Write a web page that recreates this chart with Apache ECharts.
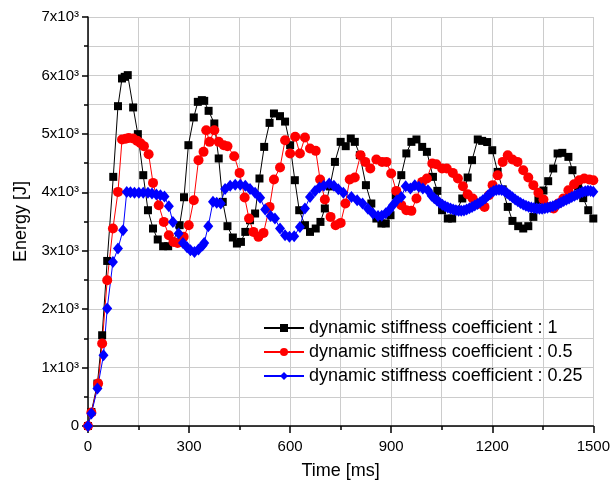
<!DOCTYPE html>
<html>
<head>
<meta charset="utf-8">
<script src="https://cdn.jsdelivr.net/npm/echarts@6/dist/echarts.min.js"></script>
<style>
  html, body { margin: 0; padding: 0; background: #fff; }
  #chart { width: 613px; height: 492px; }
</style>
</head>
<body>
<div id="chart"></div>
<script>
// series names
const seriesNames = [
  'dynamic stiffness coefficient : 1',
  'dynamic stiffness coefficient : 0.5',
  'dynamic stiffness coefficient : 0.25'
]

// coefficient 1 (black squares)
const timeK1 = [0, 10, 28, 42, 57, 75, 89, 101, 109, 118, 134, 148, 164, 178, 193, 207, 223, 238, 252, 272, 285, 298,
  314, 326, 338, 345, 358, 375, 388, 400, 414, 430, 442, 454, 467, 481, 496, 509, 523, 539, 552, 570, 585,
  600, 614, 627, 644, 659, 676, 690, 703, 718, 733, 750, 765, 780, 792, 807, 825, 841, 856, 871, 884,
  898, 914, 930, 945, 960, 975, 992, 1006, 1024, 1037, 1051, 1068, 1081, 1096, 1111, 1127, 1140, 1157,
  1170, 1185, 1200, 1216, 1231, 1246, 1260, 1277, 1292, 1307, 1322, 1337, 1352, 1366, 1381, 1394, 1408,
  1426, 1438, 1455, 1470, 1485, 1500]
const energyK1 = [0, 240, 726, 1553, 2825, 4264, 5474, 5948, 5976, 6005, 5452, 4995, 4293, 3693, 3380, 3192, 3077, 3077, 3150, 3437, 3915, 4806,
  5281, 5548, 5577, 5565, 5394, 5178, 4579, 3836, 3420, 3226, 3123, 3151, 3322, 3522, 3637, 4236, 4777, 5188, 5349, 5303, 5210,
  4806, 4207, 3693, 3437, 3322, 3380, 3493, 3723, 4100, 4520, 4863, 4789, 4921, 4863, 4635, 4122, 3808, 3551, 3466, 3466,
  3608, 3950, 4293, 4665, 4863, 4904, 4777, 4692, 4264, 4024, 3693, 3551, 3551, 3700, 3894, 4253, 4550, 4904,
  4880, 4860, 4720, 4349, 4050, 3750, 3510, 3420, 3380, 3420, 3579, 3865, 4030, 4190, 4407, 4664, 4675,
  4606, 4378, 4100, 3900, 3693, 3551]

// coefficient 0.5 (red circles)
const timeK05 = [0, 10, 30, 42, 57, 74, 89, 101, 112, 121, 134, 146, 156, 166, 180, 193, 210, 225, 240, 254, 266, 284, 299,
  314, 328, 343, 351, 361, 375, 388, 403, 414, 434, 450, 465, 478, 491, 506, 521, 539, 552, 570, 585,
  600, 615, 629, 644, 659, 676, 689, 703, 720, 735, 750, 764, 777, 792, 809, 823, 838, 856, 873, 886,
  900, 915, 930, 945, 960, 975, 992, 1006, 1022, 1034, 1051, 1065, 1083, 1098, 1113, 1127, 1142, 1157,
  1177, 1190, 1201, 1216, 1231, 1246, 1260, 1275, 1292, 1307, 1322, 1337, 1352, 1369, 1382, 1396, 1411,
  1426, 1443, 1458, 1473, 1488, 1500]
const energyK05 = [0, 230, 726, 1411, 2495, 3380, 4007, 4904, 4915, 4930, 4920, 4880, 4840, 4790, 4652, 4161, 3779, 3493, 3265, 3150, 3133, 3237, 3437,
  3865, 4550, 4692, 5063, 4863, 5063, 4863, 4806, 4789, 4618, 4332, 3911, 3550, 3322, 3237, 3305, 3750, 4219, 4425, 4892,
  4664, 4949, 4664, 4938, 4750, 4709, 4219, 3877, 3579, 3437, 3476, 3808, 4219, 4253, 4635, 4520, 4407, 4562, 4520, 4520,
  4321, 4024, 3780, 3693, 3682, 3894, 4178, 4236, 4493, 4481, 4407, 4407, 4332, 4236, 4104, 3967, 3894, 3800,
  3750, 3950, 4122, 4293, 4520, 4635, 4562, 4520, 4378, 4253, 4122, 3990, 3877, 3750, 3723, 3808, 3894,
  4036, 4139, 4207, 4236, 4219, 4207]

// coefficient 0.25 (blue diamonds)
const timeK025 = [0, 10, 28, 46, 57, 74, 89, 104, 115, 126, 138, 151, 164, 178, 190, 203, 215, 227, 240, 252, 269, 282,
  294, 304, 316, 328, 340, 345, 357, 371, 382, 394, 407, 422, 437, 452, 467, 481, 496, 511, 526, 542, 555, 570, 585,
  598, 612, 629, 644, 659, 674, 687, 700, 716, 730, 743, 758, 782, 799, 815, 831, 846, 861, 872, 884,
  894, 905, 917, 930, 943, 957, 970, 982, 994, 1009,
  1020, 1028, 1036, 1044, 1052, 1060, 1068, 1076, 1084, 1092, 1100, 1108, 1116, 1124, 1132, 1140, 1148, 1156,
  1164, 1172, 1180, 1188, 1196, 1204, 1212, 1220, 1228, 1236, 1244, 1252, 1260, 1268, 1276, 1284, 1292, 1300,
  1308, 1316, 1324, 1332, 1340, 1348, 1356, 1364, 1372, 1380, 1388, 1396, 1404, 1412, 1420, 1428, 1436, 1444,
  1452, 1460, 1468, 1476, 1484, 1492, 1500]
const energyK025 = [0, 212, 640, 1211, 2010, 2808, 3038, 3351, 4007, 4000, 3990, 3990, 3990, 3990, 3980, 3960, 3950, 3930, 3762, 3493, 3294, 3133,
  3060, 3010, 2980, 3021, 3090, 3133, 3420, 3836, 3819, 3808, 4058, 4110, 4127, 4127, 4110, 4058, 3990, 3905, 3706, 3593, 3551, 3380, 3266,
  3237, 3248, 3408, 3723, 3921, 4024, 4082, 4110, 4150, 4110, 4050, 3990, 3920, 3865, 3808, 3720, 3637, 3595, 3600, 3640,
  3693, 3779, 3865, 3921, 4104, 4065, 4122, 4093, 4065, 4036,
  3940, 3900, 3860, 3820, 3785, 3760, 3740, 3722, 3705, 3692, 3684, 3684, 3690, 3705, 3725, 3748, 3772, 3798,
  3830, 3865, 3900, 3950, 3990, 4020, 4040, 4045, 4040, 4020, 3985, 3950, 3915, 3875, 3845, 3815, 3790, 3770,
  3752, 3740, 3730, 3722, 3720, 3720, 3725, 3735, 3748, 3762, 3778, 3800, 3825, 3850, 3872, 3894, 3918, 3940,
  3962, 3985, 4005, 4018, 4025, 4020, 4010]

const zip = (ts, es) => ts.map((t, i) => [t, es[i]])

const fontFamily = '"Liberation Sans", Arial, sans-serif'
const gridColor = '#cccccc'

const chart = echarts.init(document.getElementById('chart'))

const option = {
  animation: false,
  backgroundColor: '#fff',
  textStyle: { fontFamily: fontFamily },
  grid: {
    left: 88,
    right: 16,
    top: 17,
    bottom: 66,
    containLabel: false
  },
  legend: {
    data: seriesNames,
    orient: 'vertical',
    left: 258,
    top: 314,
    itemWidth: 40,
    itemHeight: 10,
    itemGap: 6,
    textStyle: { fontSize: 18, color: '#000', fontFamily: fontFamily }
  },
  xAxis: {
    type: 'value',
    min: 0,
    max: 1500,
    interval: 300,
    name: 'Time [ms]',
    nameLocation: 'middle',
    nameGap: 36,
    nameTextStyle: { fontSize: 18, color: '#000' },
    axisLine: { show: true, onZero: false, lineStyle: { color: '#000', width: 1.5 } },
    axisTick: { show: true, length: 7, lineStyle: { color: '#000', width: 1.5 } },
    minorTick: { show: true, splitNumber: 2, length: 4, lineStyle: { color: '#000', width: 1.5 } },
    axisLabel: { fontSize: 15, color: '#000', margin: 13, formatter: (v) => String(v) },
    splitLine: { show: true, lineStyle: { color: gridColor, width: 1 } },
    minorSplitLine: { show: true, lineStyle: { color: gridColor, width: 1 } }
  },
  yAxis: {
    type: 'value',
    min: 0,
    max: 7000,
    interval: 1000,
    name: 'Energy [J]',
    nameLocation: 'middle',
    nameGap: 58,
    nameTextStyle: { fontSize: 18, color: '#000' },
    axisLine: { show: true, onZero: false, lineStyle: { color: '#000', width: 1.5 } },
    axisTick: { show: true, length: 6, lineStyle: { color: '#000', width: 1.5 } },
    minorTick: { show: true, splitNumber: 2, length: 4, lineStyle: { color: '#000', width: 1.5 } },
    axisLabel: {
      fontSize: 15,
      color: '#000',
      margin: 9,
      formatter: (v) => (v === 0 ? '0' : (v / 1000) + 'x10³')
    },
    splitLine: { show: true, lineStyle: { color: gridColor, width: 1 } },
    minorSplitLine: { show: true, lineStyle: { color: gridColor, width: 1 } }
  },
  series: [
    {
      name: seriesNames[0],
      type: 'line',
      data: zip(timeK1, energyK1),
      symbol: 'rect',
      symbolSize: 8,
      lineStyle: { color: '#000', width: 1 },
      itemStyle: { color: '#000' }
    },
    {
      name: seriesNames[1],
      type: 'line',
      data: zip(timeK05, energyK05),
      symbol: 'circle',
      symbolSize: 10,
      lineStyle: { color: '#ff0000', width: 1 },
      itemStyle: { color: '#ff0000' }
    },
    {
      name: seriesNames[2],
      type: 'line',
      data: zip(timeK025, energyK025),
      symbol: 'diamond',
      symbolSize: [10, 12],
      lineStyle: { color: '#0000ff', width: 1 },
      itemStyle: { color: '#0000ff' }
    }
  ]
}

chart.setOption(option)
</script>
</body>
</html>
